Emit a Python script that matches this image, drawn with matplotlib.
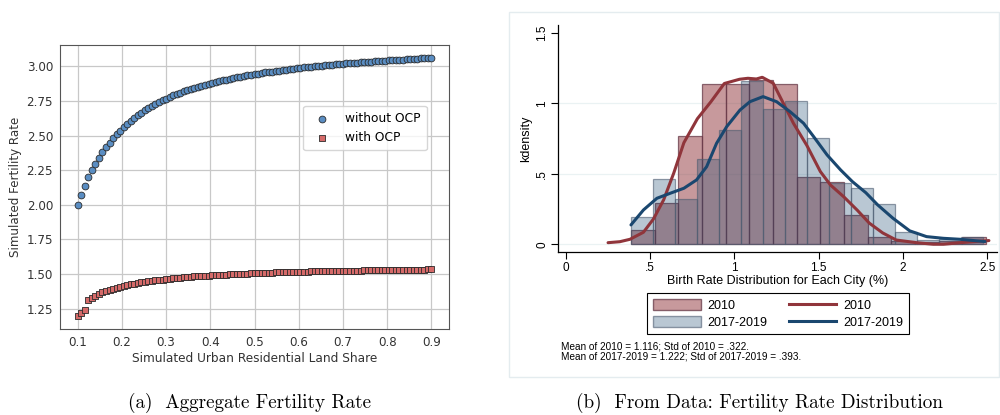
import numpy as np
import matplotlib
matplotlib.use('Agg')
import matplotlib.pyplot as plt
from matplotlib.patches import Patch, Rectangle
from matplotlib.lines import Line2D

# ---- panel (a): simulated fertility rate vs land share ----
land_share = [
    0.100, 0.108, 0.116, 0.124, 0.132, 0.140, 0.148, 0.156, 0.164, 0.172,
    0.180, 0.188, 0.196, 0.204, 0.212, 0.220, 0.228, 0.236, 0.244, 0.252,
    0.260, 0.268, 0.276, 0.284, 0.292, 0.300, 0.308, 0.316, 0.324, 0.332,
    0.340, 0.348, 0.356, 0.364, 0.372, 0.380, 0.388, 0.396, 0.404, 0.412,
    0.420, 0.428, 0.436, 0.444, 0.452, 0.460, 0.468, 0.476, 0.484, 0.492,
    0.500, 0.508, 0.516, 0.524, 0.532, 0.540, 0.548, 0.556, 0.564, 0.572,
    0.580, 0.588, 0.596, 0.604, 0.612, 0.620, 0.628, 0.636, 0.644, 0.652,
    0.660, 0.668, 0.676, 0.684, 0.692, 0.700, 0.708, 0.716, 0.724, 0.732,
    0.740, 0.748, 0.756, 0.764, 0.772, 0.780, 0.788, 0.796, 0.804, 0.812,
    0.820, 0.828, 0.836, 0.844, 0.852, 0.860, 0.868, 0.876, 0.884, 0.892,
    0.900,
]
fert_without_ocp = [
    2.000, 2.072, 2.139, 2.200, 2.250, 2.298, 2.340, 2.378, 2.414, 2.448,
    2.479, 2.508, 2.535, 2.560, 2.585, 2.607, 2.628, 2.648, 2.666, 2.683,
    2.700, 2.715, 2.729, 2.742, 2.755, 2.767, 2.778, 2.789, 2.800, 2.809,
    2.819, 2.828, 2.836, 2.844, 2.852, 2.859, 2.867, 2.873, 2.880, 2.886,
    2.892, 2.898, 2.904, 2.909, 2.915, 2.920, 2.925, 2.929, 2.934, 2.938,
    2.943, 2.947, 2.951, 2.955, 2.958, 2.962, 2.966, 2.969, 2.972, 2.976,
    2.979, 2.982, 2.985, 2.988, 2.991, 2.994, 2.996, 2.999, 3.001, 3.004,
    3.006, 3.009, 3.011, 3.013, 3.016, 3.018, 3.020, 3.022, 3.024, 3.026,
    3.028, 3.030, 3.032, 3.034, 3.035, 3.037, 3.039, 3.041, 3.042, 3.044,
    3.045, 3.047, 3.048, 3.050, 3.051, 3.053, 3.054, 3.056, 3.057, 3.058,
    3.060,
]
fert_with_ocp = [
    1.197, 1.221, 1.238, 1.316, 1.331, 1.345, 1.357, 1.368, 1.378, 1.387,
    1.395, 1.402, 1.409, 1.415, 1.421, 1.426, 1.431, 1.436, 1.440, 1.444,
    1.448, 1.452, 1.455, 1.458, 1.461, 1.464, 1.467, 1.470, 1.472, 1.474,
    1.477, 1.479, 1.481, 1.483, 1.485, 1.486, 1.488, 1.490, 1.491, 1.493,
    1.494, 1.496, 1.497, 1.498, 1.500, 1.501, 1.502, 1.503, 1.504, 1.505,
    1.506, 1.507, 1.508, 1.509, 1.510, 1.511, 1.512, 1.513, 1.513, 1.514,
    1.515, 1.516, 1.516, 1.517, 1.518, 1.518, 1.519, 1.520, 1.520, 1.521,
    1.521, 1.522, 1.522, 1.523, 1.524, 1.524, 1.525, 1.525, 1.526, 1.526,
    1.526, 1.527, 1.527, 1.528, 1.528, 1.529, 1.529, 1.530, 1.530, 1.530,
    1.531, 1.531, 1.531, 1.532, 1.532, 1.532, 1.533, 1.533, 1.533, 1.534,
    1.534,
]

# ---- panel (b): birth rate histograms + kernel densities ----
edges_2010 = [0.386, 0.5265, 0.667, 0.8075, 0.948, 1.0885, 1.229, 1.3695,
              1.510, 1.6505, 1.791, 1.9315, 2.072, 2.2125, 2.353, 2.4935]
dens_2010 = [0.10, 0.29, 0.768, 1.135, 1.135, 1.165, 1.135, 0.475,
             0.444, 0.208, 0.05, 0.025, 0.015, 0.02, 0.05]
edges_1719 = [0.386, 0.5167, 0.6474, 0.7781, 0.9088, 1.0395, 1.1702, 1.3009,
              1.4316, 1.5623, 1.693, 1.8237, 1.9544, 2.0851, 2.2158, 2.3465, 2.4772]
dens_1719 = [0.196, 0.461, 0.319, 0.603, 0.808, 1.16, 0.957, 1.016,
             0.754, 0.437, 0.40, 0.284, 0.085, 0.03, 0.035, 0.05]

kd_2010_x = [0.25, 0.32, 0.38, 0.46, 0.52, 0.58, 0.64, 0.70, 0.78, 0.86, 0.94,
             1.03, 1.08, 1.13, 1.165, 1.23, 1.29, 1.35, 1.43, 1.51, 1.57, 1.65,
             1.73, 1.80, 1.88, 1.96, 2.08, 2.18, 2.24, 2.34, 2.44, 2.51]
kd_2010_y = [0.011, 0.018, 0.035, 0.085, 0.18, 0.315, 0.505, 0.72, 0.89, 1.01, 1.14,
             1.17, 1.177, 1.172, 1.184, 1.142, 1.0, 0.858, 0.70, 0.515, 0.42, 0.335,
             0.24, 0.15, 0.08, 0.03, 0.011, 0.0, 0.0, 0.011, 0.02, 0.026]
kd_1719_x = [0.386, 0.46, 0.54, 0.62, 0.70, 0.775, 0.835, 0.894, 0.954, 1.033,
             1.092, 1.17, 1.25, 1.33, 1.41, 1.47, 1.55, 1.63, 1.70, 1.78, 1.85,
             1.94, 2.04, 2.14, 2.24, 2.34, 2.42, 2.487]
kd_1719_y = [0.137, 0.243, 0.326, 0.362, 0.397, 0.456, 0.55, 0.716, 0.834, 0.952,
             1.011, 1.047, 1.011, 0.94, 0.858, 0.763, 0.633, 0.527, 0.444, 0.365, 0.279,
             0.185, 0.095, 0.054, 0.042, 0.035, 0.026, 0.019]

x_ticks_b = [0, 0.5, 1, 1.5, 2, 2.5]
x_ticklabels_b = ['0', '.5', '1', '1.5', '2', '2.5']
y_ticks_b = [0, 0.5, 1, 1.5]
y_ticklabels_b = ['0', '.5', '1', '1.5']

notes = ('Mean of 2010 = 1.116; Std of 2010 = .322.\n'
         'Mean of 2017-2019 = 1.222; Std of 2017-2019 = .393.')

fig = plt.figure(figsize=(10, 4.15), dpi=100)

# panel (a)
ax = fig.add_axes([0.060, 0.2072, 0.389, 0.6843])
ax.scatter(land_share, fert_without_ocp, s=24, marker='o', color='#5a8dc2',
           edgecolor='#2b2b2b', linewidth=0.6, label='without OCP', zorder=3)
ax.scatter(land_share, fert_with_ocp, s=24, marker='s', color='#d56a69',
           edgecolor='#2b2b2b', linewidth=0.6, label='with OCP', zorder=3)
ax.grid(True, color='#c8c8c8', linewidth=0.9)
ax.set_axisbelow(True)
ax.set_xticks([0.1, 0.2, 0.3, 0.4, 0.5, 0.6, 0.7, 0.8, 0.9])
ax.set_yticks([1.25, 1.50, 1.75, 2.00, 2.25, 2.50, 2.75, 3.00])
ax.tick_params(length=0, labelsize=8.6, labelcolor='#333333', pad=5)
for s in ax.spines.values():
    s.set_color('#555555')
    s.set_linewidth(0.8)
ax.set_xlabel('Simulated Urban Residential Land Share', fontsize=8.7, color='#333333', labelpad=2)
ax.set_ylabel('Simulated Fertility Rate', fontsize=8.6, color='#333333', labelpad=3)
ax.legend(loc='center right', bbox_to_anchor=(0.958, 0.708), fontsize=8.8,
          handletextpad=0.9, borderpad=0.5, labelspacing=0.5)

# panel (b), Stata-like look
fig.add_artist(Rectangle((0.509, 0.0916), 0.49, 0.8795, transform=fig.transFigure,
                         facecolor='none', edgecolor='#e4ecef', linewidth=1))
bx = fig.add_axes([0.558, 0.3928, 0.439, 0.547])
red_face = (0.565, 0.208, 0.231, 0.5)
red_edge = (0.40, 0.22, 0.28, 0.75)
blue_face = (0.102, 0.278, 0.435, 0.3)
blue_edge = (0.30, 0.36, 0.44, 0.6)
bx.bar(edges_2010[:-1], dens_2010, width=np.diff(edges_2010), align='edge',
       facecolor=red_face, edgecolor=red_edge, linewidth=0.9, zorder=2)
bx.bar(edges_1719[:-1], dens_1719, width=np.diff(edges_1719), align='edge',
       facecolor=blue_face, edgecolor=blue_edge, linewidth=0.9, zorder=3)
bx.plot(kd_2010_x, kd_2010_y, color='#90353b', linewidth=2.2,
        solid_capstyle='round', solid_joinstyle='round', zorder=4)
bx.plot(kd_1719_x, kd_1719_y, color='#1a476f', linewidth=2.2,
        solid_capstyle='round', solid_joinstyle='round', zorder=5)
bx.set_xlim(-0.047, 2.558)
bx.set_ylim(-0.055, 1.555)
for yv in y_ticks_b[:3]:
    bx.axhline(yv, color='#eaf2f3', linewidth=0.9, zorder=1)
bx.spines['top'].set_visible(False)
bx.spines['right'].set_visible(False)
bx.spines['left'].set_linewidth(0.9)
bx.spines['bottom'].set_linewidth(0.9)
bx.set_xticks(x_ticks_b)
bx.set_xticklabels(x_ticklabels_b, family='Liberation Sans', fontsize=8.5)
bx.set_yticks(y_ticks_b)
bx.set_yticklabels(y_ticklabels_b, family='Liberation Sans', fontsize=8.5,
                   rotation=90, va='center')
bx.tick_params(length=5, width=0.8, pad=2)
bx.set_xlabel('Birth Rate Distribution for Each City (%)', family='Liberation Sans',
              fontsize=9, labelpad=1)
bx.set_ylabel('kdensity', family='Liberation Sans', fontsize=9, labelpad=3)

handles = [Patch(facecolor=red_face, edgecolor=red_edge),
           Patch(facecolor=blue_face, edgecolor=blue_edge),
           Line2D([], [], color='#90353b', linewidth=2.2),
           Line2D([], [], color='#1a476f', linewidth=2.2)]
labels = ['2010', '2017-2019', '2010', '2017-2019']
leg = fig.legend(handles, labels, ncol=2, loc='center', bbox_to_anchor=(0.778, 0.2434),
                 prop={'family': 'Liberation Sans', 'size': 9}, frameon=True,
                 fancybox=False, edgecolor='black', framealpha=1,
                 handlelength=3.8, handleheight=0.95, handletextpad=0.55,
                 columnspacing=1.7, borderpad=0.45, labelspacing=0.35)
leg.get_frame().set_linewidth(0.8)
fig.text(0.561, 0.152, notes, family='Liberation Sans', fontsize=7.2,
         va='center', ha='left', linespacing=1.0)

# captions (LaTeX-like serif)
fig.text(0.249, 0.03, '(a)  Aggregate Fertility Rate', family='cmr10',
         ha='center', va='center', fontsize=13.8)
fig.text(0.760, 0.03, '(b)  From Data: Fertility Rate Distribution', family='cmr10',
         ha='center', va='center', fontsize=13.8)

fig.savefig('out.png', dpi=100)
